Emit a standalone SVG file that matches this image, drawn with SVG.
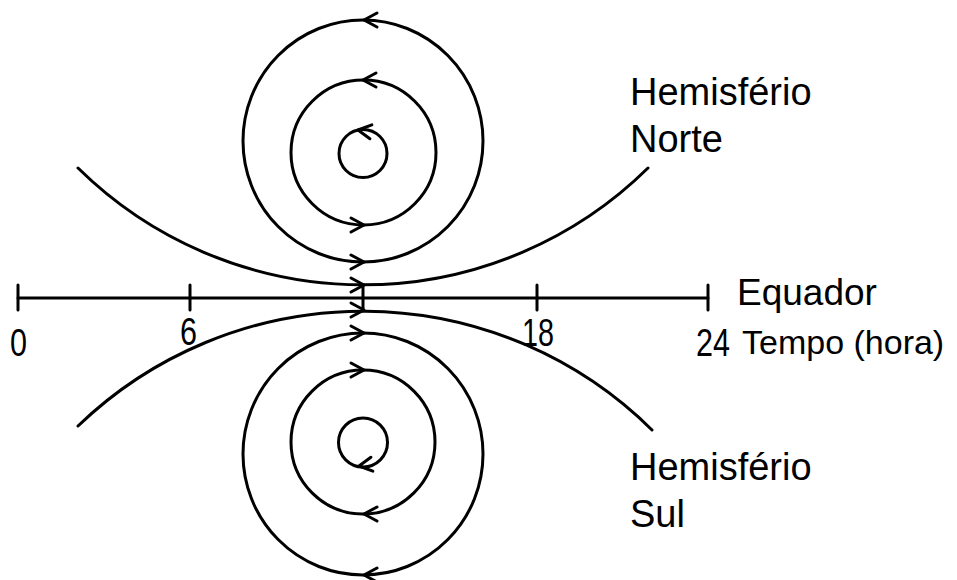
<svg xmlns="http://www.w3.org/2000/svg" xmlns:xlink="http://www.w3.org/1999/xlink" width="957" height="580" viewBox="0 0 957 580">
<style>
.ln{fill:none;stroke:#000;stroke-width:3;stroke-linecap:round}
.lbl{font-family:"Liberation Sans",Arial,sans-serif;fill:#000}
.num{font-family:"Liberation Sans",Arial,sans-serif;font-size:39px;fill:#000;text-anchor:middle}
</style>
<defs>
<path id="chev" d="M0,0 L13,-7 M0,0 L13,7" fill="none" stroke="#000" stroke-width="3" stroke-linecap="round" stroke-linejoin="round"/>
</defs>
<rect width="957" height="580" fill="#fff"/>
<g id="axis">
<line class="ln" x1="18" y1="298" x2="708" y2="298"/>
<line class="ln" x1="18" y1="285" x2="18" y2="310"/>
<line class="ln" x1="190" y1="285" x2="190" y2="310"/>
<line class="ln" x1="363" y1="285" x2="363" y2="310"/>
<line class="ln" x1="537" y1="285" x2="537" y2="310"/>
<line class="ln" x1="708" y1="285" x2="708" y2="310"/>
<text class="num" x="18.5" y="356" textLength="17" lengthAdjust="spacingAndGlyphs">0</text>
<text class="num" x="188.5" y="345" textLength="17" lengthAdjust="spacingAndGlyphs">6</text>
<text class="num" x="538" y="346" textLength="32" lengthAdjust="spacingAndGlyphs">18</text>
<text class="num" x="713" y="356" textLength="34" lengthAdjust="spacingAndGlyphs">24</text>
<text class="lbl" x="737" y="305" font-size="37">Equador</text>
<text class="lbl" x="742" y="354" font-size="34">Tempo (hora)</text>
</g>
<g id="north">
<ellipse class="ln" cx="363" cy="141" rx="120" ry="121"/>
<circle class="ln" cx="363.5" cy="152.5" r="72.5"/>
<circle class="ln" cx="363" cy="153.5" r="24"/>
<text class="lbl" x="630" y="105" font-size="38">Hemisfério</text>
<text class="lbl" x="630" y="152" font-size="38">Norte</text>
</g>
<g id="south">
<ellipse class="ln" cx="363" cy="454" rx="120" ry="121"/>
<circle class="ln" cx="363" cy="442" r="72"/>
<circle class="ln" cx="363" cy="442.5" r="24.5"/>
<text class="lbl" x="630" y="480" font-size="38">Hemisfério</text>
<text class="lbl" x="630" y="527" font-size="38">Sul</text>
</g>
<g id="connectors">
<path class="ln" d="M78,168 A406,406 0 0 0 648,168"/>
<path class="ln" d="M78,426 A411,411 0 0 1 652,430"/>
<use xlink:href="#chev" href="#chev" transform="translate(364,20)"/>
<use xlink:href="#chev" href="#chev" transform="translate(363,80)"/>
<use xlink:href="#chev" href="#chev" transform="translate(358,130) rotate(8)"/>
<use xlink:href="#chev" href="#chev" transform="translate(364,225) scale(-1,1)"/>
<use xlink:href="#chev" href="#chev" transform="translate(364,262) scale(-1,1)"/>
<use xlink:href="#chev" href="#chev" transform="translate(364,285) scale(-1,1)"/>
<use xlink:href="#chev" href="#chev" transform="translate(364,310) scale(-1,1)"/>
<use xlink:href="#chev" href="#chev" transform="translate(364,333) scale(-1,1)"/>
<use xlink:href="#chev" href="#chev" transform="translate(364,370) scale(-1,1)"/>
<use xlink:href="#chev" href="#chev" transform="translate(359,466) rotate(-8)"/>
<use xlink:href="#chev" href="#chev" transform="translate(364,514)"/>
<use xlink:href="#chev" href="#chev" transform="translate(364,575)"/>
</g>
</svg>
